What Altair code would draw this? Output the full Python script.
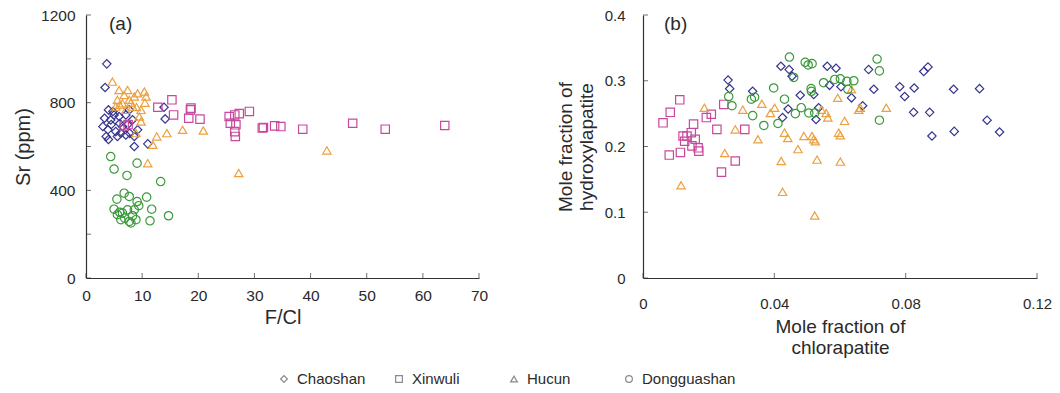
import altair as alt
import pandas as pd

SITES = ["Chaoshan", "Xinwuli", "Hucun", "Dongguashan"]
SHAPES = ["diamond", "square", "triangle-up", "circle"]
COLORS = ["#35358f", "#c8489e", "#eca040", "#3a9a3a"]

# ---- panel (a): F/Cl vs Sr (ppm) ----
CS_FCL = [3.7, 3.4, 4.0, 3.0, 3.9, 3.3, 4.4, 5.0, 3.6, 4.0, 5.9, 6.2, 7.1, 7.4, 8.3, 9.2, 8.6, 8.6,
          11.0, 13.9, 14.1, 7.1, 5.6, 6.5, 7.7, 5.3, 4.5, 6.0, 7.8, 4.8]
CS_SR = [977, 869, 767, 691, 676, 729, 721, 744, 646, 632, 737, 661, 744, 699, 722, 676, 646, 600,
         612, 779, 726, 653, 646, 691, 767, 668, 700, 705, 660, 760]

XW_FCL = [12.8, 15.3, 15.6, 18.6, 18.7, 18.3, 20.3, 25.5, 25.7, 26.5, 26.7, 26.5, 26.6, 27.3, 29.1,
          31.4, 31.6, 33.6, 34.7, 38.6, 47.5, 53.3, 63.9, 6.8, 7.5]
XW_SR = [779, 813, 744, 767, 775, 729, 725, 737, 706, 744, 699, 668, 646, 750, 760,
         684, 687, 694, 691, 679, 706, 679, 696, 694, 700]

HC_FCL = [4.7, 5.9, 6.8, 7.4, 5.6, 6.5, 7.7, 8.6, 9.2, 10.4, 10.7, 9.8, 8.3, 7.1, 5.3, 9.5, 9.8, 8.9,
          11.0, 11.9, 12.6, 14.4, 17.2, 20.9, 27.2, 42.9, 6.0, 8.0, 9.0, 10.5]
HC_SR = [896, 858, 835, 858, 813, 797, 813, 828, 843, 851, 828, 767, 782, 767, 782, 737, 714, 661,
         524, 608, 646, 661, 676, 673, 479, 582, 790, 800, 780, 800]

DG_FCL = [4.4, 5.0, 7.3, 9.1, 13.3, 14.7, 5.5, 6.8, 7.7, 9.1, 9.4, 10.8, 11.7, 11.4, 5.0, 5.6, 6.2,
          6.9, 8.0, 8.3, 8.9, 7.4, 6.5, 8.6, 7.7, 6.0]
DG_SR = [554, 497, 468, 524, 440, 284, 360, 387, 372, 349, 330, 369, 314, 261, 314, 289, 266,
         273, 251, 284, 266, 311, 296, 311, 258, 300]

# ---- panel (b): X(Cl) vs X(OH) ----
CS_XCL = [0.0259, 0.0264, 0.0334, 0.0420, 0.0445, 0.0454, 0.0561, 0.0588, 0.0479, 0.0520, 0.0535,
          0.0527, 0.0442, 0.0425, 0.0568, 0.0603, 0.0635, 0.0669, 0.0687, 0.0703, 0.0782, 0.0797,
          0.0826, 0.0824, 0.0873, 0.0855, 0.0868, 0.0880, 0.0946, 0.0948, 0.1025, 0.1048, 0.1086]
CS_XOH = [0.301, 0.288, 0.284, 0.322, 0.317, 0.307, 0.322, 0.319, 0.278, 0.279, 0.259,
          0.241, 0.257, 0.244, 0.293, 0.291, 0.274, 0.262, 0.317, 0.287, 0.291, 0.276,
          0.289, 0.252, 0.252, 0.314, 0.321, 0.216, 0.287, 0.223, 0.288, 0.240, 0.222]

XW_XCL = [0.0061, 0.0083, 0.0112, 0.0080, 0.0114, 0.0122, 0.0127, 0.0147, 0.0154, 0.0159, 0.0149,
          0.0170, 0.0168, 0.0193, 0.0208, 0.0225, 0.0246, 0.0239, 0.0281, 0.0310, 0.0134]
XW_XOH = [0.236, 0.252, 0.271, 0.187, 0.191, 0.216, 0.208, 0.221, 0.234, 0.211, 0.201,
          0.193, 0.198, 0.244, 0.249, 0.226, 0.264, 0.161, 0.178, 0.226, 0.216]

HC_XCL = [0.0116, 0.0187, 0.0249, 0.0281, 0.0304, 0.0350, 0.0362, 0.0388, 0.0401, 0.0421, 0.0425,
          0.0431, 0.0441, 0.0472, 0.0490, 0.0515, 0.0520, 0.0525, 0.0523, 0.0530, 0.0558, 0.0563,
          0.0593, 0.0596, 0.0601, 0.0601, 0.0614, 0.0635, 0.0657, 0.0662, 0.0741, 0.0543]
HC_XOH = [0.141, 0.259, 0.190, 0.226, 0.256, 0.211, 0.265, 0.251, 0.259, 0.178, 0.131,
          0.221, 0.213, 0.196, 0.216, 0.216, 0.211, 0.208, 0.095, 0.180, 0.251, 0.244,
          0.274, 0.221, 0.217, 0.177, 0.239, 0.287, 0.256, 0.259, 0.259, 0.256]

DG_XCL = [0.0271, 0.0261, 0.0330, 0.0340, 0.0334, 0.0368, 0.0398, 0.0411, 0.0431, 0.0446, 0.0459,
          0.0494, 0.0503, 0.0515, 0.0482, 0.0464, 0.0512, 0.0513, 0.0523, 0.0550, 0.0584, 0.0601,
          0.0621, 0.0642, 0.0624, 0.0713, 0.0720, 0.0720, 0.0505]
DG_XOH = [0.262, 0.276, 0.272, 0.275, 0.247, 0.232, 0.289, 0.235, 0.272, 0.336, 0.305,
          0.328, 0.324, 0.326, 0.259, 0.250, 0.288, 0.284, 0.251, 0.297, 0.302, 0.303,
          0.299, 0.300, 0.287, 0.333, 0.315, 0.240, 0.251]

# axis tick positions
A_XTICKS = [0, 10, 20, 30, 40, 50, 60, 70]
A_YTICKS = [0, 200, 400, 600, 800, 1000, 1200]
A_YLABELS = [0, 400, 800, 1200]
B_XTICKS = [0, 0.04, 0.08, 0.12]
B_YTICKS = [0, 0.1, 0.2, 0.3, 0.4]


def frame(site_xy, xname, yname):
    rows = []
    for site, (xs, ys) in zip(SITES, site_xy):
        rows += [{xname: x, yname: y, "site": site} for x, y in zip(xs, ys)]
    return pd.DataFrame(rows)


df_a = frame([(CS_FCL, CS_SR), (XW_FCL, XW_SR), (HC_FCL, HC_SR), (DG_FCL, DG_SR)], "fcl", "sr")
df_b = frame([(CS_XCL, CS_XOH), (XW_XCL, XW_XOH), (HC_XCL, HC_XOH), (DG_XCL, DG_XOH)], "xcl", "xoh")

FONT = "Liberation Sans"
INK = "#2a2a2a"
W_A, W_B, H = 393, 394, 263

color = alt.Color("site:N", scale=alt.Scale(domain=SITES, range=COLORS), legend=None)
shape = alt.Shape("site:N", scale=alt.Scale(domain=SITES, range=SHAPES), legend=None)


def axis_cfg(title, values, label_pad, title_pad, fmt=None, label_size=15.5, title_size=20):
    kw = dict(title=title, values=values, ticks=False, grid=False, domainColor="#333",
              domainWidth=1.2, labelFont=FONT, labelFontSize=label_size, labelColor=INK,
              labelPadding=label_pad, titleFont=FONT, titleFontSize=title_size,
              titleFontWeight="normal", titleColor=INK, titlePadding=title_pad,
              titleLineHeight=21, labelFlush=False, labelOverlap=False, labelExpr=fmt)
    return alt.Axis(**kw)


def inner_ticks(xvals, yvals, xscale, yscale, xaxis, yaxis, height):
    # short tick marks drawn on the inside of each axis line
    xt = alt.Chart(pd.DataFrame({"t": xvals})).mark_tick(
        orient="vertical", size=5, thickness=1, color="#333"
    ).encode(x=alt.X("t:Q", scale=xscale, axis=xaxis), y=alt.value(height - 2.5))
    yt = alt.Chart(pd.DataFrame({"t": yvals})).mark_tick(
        orient="horizontal", size=5, thickness=1, color="#333"
    ).encode(y=alt.Y("t:Q", scale=yscale, axis=yaxis), x=alt.value(2.5))
    return xt, yt


def tag(label, x, y):
    return alt.Chart(pd.DataFrame({"t": [label]})).mark_text(
        align="left", baseline="middle", font=FONT, fontSize=19, color=INK
    ).encode(x=alt.value(x), y=alt.value(y), text="t:N")


# panel (a)
xs_a = alt.Scale(domain=[0, 70], nice=False)
ys_a = alt.Scale(domain=[0, 1200], nice=False)
xax_a = axis_cfg("F/Cl", A_XTICKS, 10, 4, fmt="format(datum.value, 'd')")
yax_a = axis_cfg("Sr (ppm)", A_YLABELS, 11, 7, fmt="format(datum.value, 'd')")
pts_a = alt.Chart(df_a).mark_point(filled=False, size=70, strokeWidth=1.2, opacity=1).encode(
    x=alt.X("fcl:Q", scale=xs_a, axis=xax_a),
    y=alt.Y("sr:Q", scale=ys_a, axis=yax_a),
    color=color, shape=shape,
)
xt_a, yt_a = inner_ticks(A_XTICKS, A_YTICKS, xs_a, ys_a, xax_a, yax_a, H)
panel_a = alt.layer(pts_a, xt_a, yt_a, tag("(a)", 23, 9)).properties(width=W_A, height=H)

# panel (b)
xs_b = alt.Scale(domain=[0, 0.12], nice=False)
ys_b = alt.Scale(domain=[0, 0.4], nice=False)
xax_b = axis_cfg(["Mole fraction of", "chlorapatite"], B_XTICKS, 18, 6,
                 fmt="datum.value == 0 ? '0' : format(datum.value, '.2f')",
                 label_size=15, title_size=19)
yax_b = axis_cfg(["Mole fraction of", "hydroxylapatite"], B_YTICKS, 18, 8,
                 fmt="datum.value == 0 ? '0' : format(datum.value, '.1f')",
                 label_size=15, title_size=19)
pts_b = alt.Chart(df_b).mark_point(filled=False, size=70, strokeWidth=1.2, opacity=1).encode(
    x=alt.X("xcl:Q", scale=xs_b, axis=xax_b),
    y=alt.Y("xoh:Q", scale=ys_b, axis=yax_b),
    color=color, shape=shape,
)
xt_b, yt_b = inner_ticks(B_XTICKS, B_YTICKS, xs_b, ys_b, xax_b, yax_b, H)
panel_b = alt.layer(pts_b, xt_b, yt_b, tag("(b)", 21, 9)).properties(width=W_B, height=H)

# key row under both panels: grey open symbols followed by the site names
key_df = pd.DataFrame({"site": SITES})
key_x = alt.X("site:N", axis=None,
              scale=alt.Scale(type="point", domain=SITES, range=[198, 543], padding=0))
key_sym = alt.Chart(key_df).mark_point(
    filled=False, size=45, strokeWidth=1.2, color="#8a8a8a", opacity=1
).encode(x=key_x, y=alt.value(8), shape=shape)
key_txt = alt.Chart(key_df).mark_text(
    align="left", baseline="middle", dx=13, font=FONT, fontSize=15, color=INK
).encode(x=key_x, y=alt.value(8), text="site:N")
key = alt.layer(key_sym, key_txt).properties(width=760, height=16)

chart = (
    alt.vconcat(alt.hconcat(panel_a, panel_b, spacing=68), key, spacing=14)
    .properties(padding={"left": 13, "top": 8, "right": 0, "bottom": 0}, background="white")
    .configure_view(stroke=None)
)

chart.save("out.html", embed_options={"renderer": "svg", "actions": False})
